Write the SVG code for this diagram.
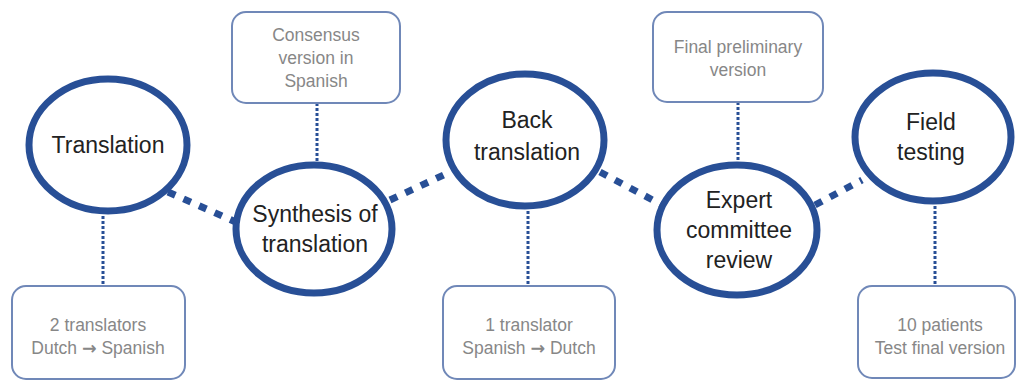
<svg xmlns="http://www.w3.org/2000/svg" width="1017" height="382" viewBox="0 0 1017 382">
<defs>
<style>
.stage{fill:#ffffff;stroke:#284f96;stroke-width:7}
.box{fill:#ffffff;stroke:#7088b8;stroke-width:2}
.st{font-family:"Liberation Sans",Arial,sans-serif;font-size:23px;fill:#222222;text-anchor:middle}
.bt{font-family:"Liberation Sans","DejaVu Sans",Arial,sans-serif;font-size:17.5px;fill:#878787;text-anchor:middle}
.arr{font-family:"DejaVu Sans",sans-serif;font-weight:bold}
.thick{stroke:#284f96;stroke-width:7;stroke-dasharray:8 9;fill:none}
.thin{stroke:#284f96;stroke-width:3;stroke-dasharray:3 2;fill:none}
</style>
</defs>
<rect width="1017" height="382" fill="#ffffff"/>
<g id="connectors">
<line class="thick" x1="168" y1="192" x2="238" y2="223"/>
<line class="thick" x1="390" y1="200" x2="450" y2="172"/>
<line class="thick" x1="600" y1="172" x2="662" y2="205"/>
<line class="thick" x1="815" y1="205" x2="862" y2="180"/>
<line class="thin" x1="103" y1="211" x2="103" y2="285"/>
<line class="thin" x1="317" y1="103" x2="317" y2="165"/>
<line class="thin" x1="528" y1="206" x2="528" y2="285"/>
<line class="thin" x1="738" y1="102" x2="738" y2="165"/>
<line class="thin" x1="935" y1="201" x2="935" y2="285"/>
</g>
<g id="translation">
<ellipse class="stage" cx="108" cy="145" rx="79" ry="66"/>
<text class="st" x="108" y="153">Translation</text>
</g>
<g id="synthesis">
<ellipse class="stage" cx="314" cy="229" rx="78" ry="64"/>
<text class="st" x="315" y="222">Synthesis of</text>
<text class="st" x="315" y="252">translation</text>
</g>
<g id="back-translation">
<ellipse class="stage" cx="525" cy="140" rx="79" ry="66"/>
<text class="st" x="527" y="128">Back</text>
<text class="st" x="527" y="160">translation</text>
</g>
<g id="expert-review">
<ellipse class="stage" cx="737" cy="230" rx="80" ry="65"/>
<text class="st" x="739" y="208">Expert</text>
<text class="st" x="739" y="238">committee</text>
<text class="st" x="739" y="268">review</text>
</g>
<g id="field-testing">
<ellipse class="stage" cx="933" cy="137" rx="78" ry="64"/>
<text class="st" x="931" y="130">Field</text>
<text class="st" x="931" y="160">testing</text>
</g>
<g id="consensus-box">
<rect class="box" x="232" y="12" width="168" height="91" rx="14"/>
<text class="bt" x="316" y="41">Consensus</text>
<text class="bt" x="316" y="64">version in</text>
<text class="bt" x="316" y="87">Spanish</text>
</g>
<g id="final-preliminary-box">
<rect class="box" x="653" y="12" width="170" height="90" rx="14"/>
<text class="bt" x="738" y="53">Final preliminary</text>
<text class="bt" x="738" y="76">version</text>
</g>
<g id="translators-box">
<rect class="box" x="12" y="286" width="173" height="93" rx="14"/>
<text class="bt" x="98" y="331">2 translators</text>
<text class="bt" x="98" y="354">Dutch <tspan class="arr">→</tspan> Spanish</text>
</g>
<g id="back-translator-box">
<rect class="box" x="443" y="286" width="172" height="93" rx="14"/>
<text class="bt" x="529" y="331">1 translator</text>
<text class="bt" x="529" y="354">Spanish <tspan class="arr">→</tspan> Dutch</text>
</g>
<g id="patients-box">
<rect class="box" x="858" y="286" width="157" height="92" rx="14"/>
<text class="bt" x="940" y="331">10 patients</text>
<text class="bt" x="940" y="354">Test final version</text>
</g>
</svg>
